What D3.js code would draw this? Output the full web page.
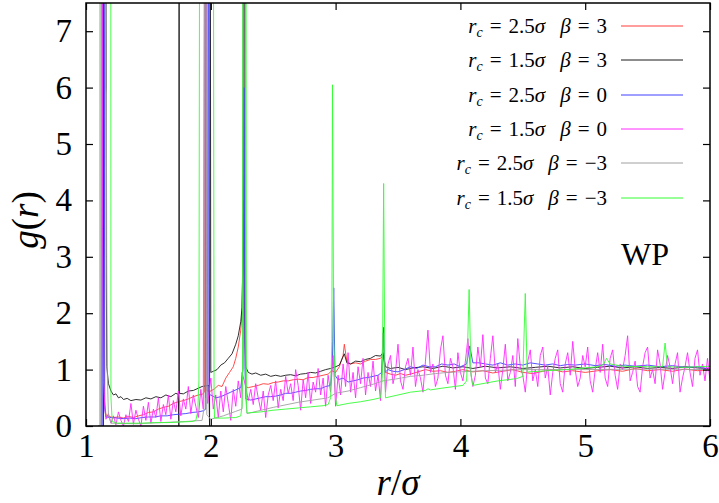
<!DOCTYPE html>
<html>
<head>
<meta charset="utf-8">
<title>g(r) WP</title>
<script src="https://cdn.jsdelivr.net/npm/d3@7"></script>
<style>
  body { margin: 0; background: #fff; }
  svg text { font-family: "Liberation Serif", "DejaVu Serif", serif; fill: #000; }
</style>
</head>
<body>
<svg id="chart" width="719" height="503"></svg>
<script>
// values, [r/sigma, g(r)]; 12 = goes off the top
const red = [[1.10,0],[1.125,0],[1.13,12],[1.14,12],[1.145,0.5],[1.16,0.2],[1.18,0.17],[1.22,0.15],[1.26,0.16],[1.30,0.14],[1.34,0.17],[1.38,0.15],[1.42,0.18],[1.46,0.20],[1.50,0.24],[1.54,0.25],[1.58,0.30],[1.62,0.33],[1.66,0.35],[1.70,0.40],[1.74,0.43],[1.78,0.45],[1.82,0.48],[1.86,0.52],[1.90,0.55],[1.93,0.56],[1.95,0.6],[1.955,12],[1.965,12],[1.97,0.62],[2.0,0.62],[2.03,0.66],[2.06,0.72],[2.09,0.70],[2.12,0.85],[2.15,0.95],[2.18,1.05],[2.20,1.2],[2.22,1.4],[2.24,1.7],[2.25,2.0],[2.262,4.0],[2.27,2.0],[2.28,0.7],[2.30,0.68],[2.34,0.70],[2.38,0.72],[2.42,0.75],[2.46,0.74],[2.50,0.77],[2.54,0.78],[2.58,0.80],[2.62,0.80],[2.66,0.82],[2.70,0.83],[2.74,0.82],[2.78,0.86],[2.82,0.86],[2.86,0.88],[2.90,0.90],[2.94,0.92],[2.97,0.98],[3.00,0.95],[3.03,1.05],[3.06,1.25],[3.07,1.45],[3.09,1.15],[3.12,1.10],[3.16,1.12],[3.20,1.10],[3.24,1.15],[3.28,1.18],[3.32,1.18],[3.36,1.20],[3.38,1.25],[3.40,0.95],[3.44,0.92],[3.48,0.90],[3.52,0.93],[3.56,0.90],[3.60,0.92],[3.66,0.96],[3.72,1.0],[3.78,0.97],[3.84,0.98],[3.90,0.95],[3.96,0.97],[4.02,1.0],[4.10,0.96],[4.18,0.98],[4.26,0.94],[4.34,0.97],[4.42,1.0],[4.50,0.95],[4.58,0.93],[4.66,0.97],[4.74,1.0],[4.82,0.96],[4.90,0.98],[5.00,0.95],[5.10,0.98],[5.20,1.0],[5.30,0.97],[5.40,1.02],[5.50,0.98],[5.60,1.0],[5.70,0.97],[5.80,1.01],[5.90,0.98],[6.00,1.0]];

const black = [[1.10,0],[1.14,0],[1.143,12],[1.16,8],[1.163,2.5],[1.167,1.05],[1.18,0.75],[1.20,0.62],[1.22,0.55],[1.24,0.57],[1.26,0.50],[1.28,0.52],[1.30,0.47],[1.33,0.49],[1.36,0.45],[1.40,0.47],[1.44,0.46],[1.48,0.50],[1.52,0.48],[1.56,0.52],[1.60,0.50],[1.64,0.55],[1.68,0.52],[1.72,0.58],[1.74,0.56],[1.744,0],[1.746,12],[1.748,0.58],[1.78,0.57],[1.82,0.62],[1.86,0.63],[1.90,0.67],[1.93,0.70],[1.985,0.72],[1.99,0],[1.995,12],[2.0,0.95],[2.02,0.97],[2.05,1.0],[2.08,1.08],[2.11,1.12],[2.14,1.2],[2.17,1.28],[2.20,1.45],[2.22,1.6],[2.24,1.85],[2.25,2.1],[2.258,3.0],[2.262,12],[2.27,12],[2.275,1.5],[2.28,1.05],[2.30,0.95],[2.33,0.92],[2.36,0.94],[2.40,0.90],[2.44,0.92],[2.48,0.88],[2.52,0.90],[2.56,0.88],[2.60,0.90],[2.64,0.91],[2.68,0.89],[2.72,0.92],[2.76,0.93],[2.80,0.95],[2.84,0.94],[2.88,0.97],[2.92,1.0],[2.96,1.02],[3.00,1.05],[3.03,1.08],[3.07,1.28],[3.09,1.12],[3.12,1.10],[3.16,1.15],[3.20,1.14],[3.24,1.18],[3.28,1.20],[3.32,1.25],[3.36,1.24],[3.38,1.30],[3.40,1.05],[3.44,1.02],[3.50,1.04],[3.56,1.0],[3.62,1.03],[3.70,1.05],[3.78,1.02],[3.86,1.06],[3.94,1.03],[4.02,1.05],[4.10,1.02],[4.20,1.06],[4.30,1.03],[4.40,1.05],[4.50,1.02],[4.60,1.04],[4.70,1.06],[4.80,1.03],[4.90,1.05],[5.00,1.02],[5.10,1.04],[5.20,1.06],[5.30,1.03],[5.40,1.05],[5.50,1.02],[5.60,1.04],[5.70,1.02],[5.80,1.05],[5.90,1.03],[6.00,1.02]];

const blue = [[1.10,0],[1.13,0],[1.135,12],[1.145,12],[1.15,0.3],[1.16,0.16],[1.20,0.15],[1.25,0.14],[1.30,0.13],[1.35,0.14],[1.40,0.13],[1.45,0.15],[1.50,0.16],[1.55,0.16],[1.60,0.18],[1.65,0.18],[1.70,0.20],[1.75,0.21],[1.80,0.22],[1.85,0.24],[1.90,0.25],[1.94,0.27],[1.96,0.3],[1.965,12],[1.98,12],[1.985,0.55],[2.0,0.55],[2.04,0.50],[2.08,0.52],[2.12,0.56],[2.16,0.60],[2.20,0.64],[2.24,0.68],[2.258,1.0],[2.266,6.0],[2.274,1.0],[2.28,0.48],[2.32,0.46],[2.36,0.48],[2.40,0.50],[2.44,0.52],[2.48,0.52],[2.52,0.53],[2.56,0.55],[2.60,0.58],[2.64,0.58],[2.68,0.60],[2.72,0.62],[2.76,0.63],[2.80,0.65],[2.84,0.66],[2.88,0.66],[2.92,0.70],[2.96,0.72],[2.975,1.2],[2.985,2.45],[2.995,0.9],[3.02,0.82],[3.06,0.85],[3.10,0.78],[3.14,0.80],[3.18,0.82],[3.22,0.85],[3.26,0.86],[3.30,0.88],[3.34,0.90],[3.37,0.95],[3.385,1.75],[3.395,0.95],[3.42,1.0],[3.46,0.97],[3.50,0.96],[3.55,1.0],[3.60,1.05],[3.65,1.02],[3.70,1.08],[3.75,1.05],[3.80,1.05],[3.85,1.10],[3.90,1.08],[3.95,1.1],[4.00,1.05],[4.05,1.1],[4.075,1.42],[4.10,1.12],[4.15,1.12],[4.20,1.10],[4.26,1.08],[4.32,1.12],[4.38,1.08],[4.44,1.10],[4.50,1.08],[4.56,1.12],[4.62,1.10],[4.68,1.08],[4.74,1.10],[4.80,1.07],[4.86,1.09],[4.92,1.08],[5.00,1.10],[5.08,1.07],[5.16,1.09],[5.24,1.06],[5.32,1.08],[5.40,1.06],[5.50,1.08],[5.60,1.05],[5.70,1.07],[5.80,1.04],[5.90,1.05],[6.00,1.0]];

const magenta = [[1.10,0],[1.12,0],[1.122,12],[1.13,12],[1.133,3.5],[1.14,0.8],[1.15,0.35],[1.16,0.12],[1.18,0.22],[1.20,0.05],[1.22,0.18],[1.24,0.02],[1.26,0.25],[1.28,0.10],[1.30,0.00],[1.32,0.20],[1.34,0.08],[1.36,0.40],[1.38,0.03],[1.40,0.28],[1.42,0.12],[1.44,0.00],[1.46,0.35],[1.48,0.10],[1.50,0.42],[1.52,0.05],[1.54,0.30],[1.56,0.15],[1.58,0.50],[1.60,0.08],[1.62,0.38],[1.64,0.20],[1.66,0.55],[1.68,0.12],[1.70,0.45],[1.72,0.25],[1.74,0.62],[1.76,0.18],[1.78,0.48],[1.80,0.30],[1.82,0.70],[1.84,0.22],[1.86,0.55],[1.88,0.35],[1.90,0.15],[1.92,0.65],[1.94,0.30],[1.952,12],[1.958,0.5],[1.968,12],[1.975,0.4],[2.00,0.85],[2.02,0.30],[2.04,0.55],[2.06,0.15],[2.08,0.62],[2.10,0.25],[2.12,0.70],[2.14,0.40],[2.16,0.10],[2.18,0.65],[2.20,0.35],[2.22,0.80],[2.24,0.50],[2.25,0.95],[2.28,0.70],[2.30,0.45],[2.32,0.65],[2.34,0.38],[2.36,0.75],[2.38,0.50],[2.40,0.28],[2.42,0.62],[2.44,0.15],[2.46,0.55],[2.48,0.72],[2.50,0.45],[2.52,0.80],[2.54,0.32],[2.56,0.65],[2.58,0.45],[2.60,0.88],[2.62,0.58],[2.64,0.75],[2.66,0.45],[2.68,1.00],[2.70,0.72],[2.72,0.28],[2.74,0.82],[2.76,0.50],[2.78,0.95],[2.80,0.40],[2.82,0.78],[2.84,0.60],[2.86,1.02],[2.88,0.55],[2.90,0.85],[2.92,0.35],[2.94,0.90],[2.96,0.60],[2.98,1.25],[3.00,0.35],[3.02,0.90],[3.04,0.55],[3.06,1.10],[3.08,0.70],[3.10,1.30],[3.12,0.60],[3.14,0.95],[3.16,0.50],[3.18,1.05],[3.20,0.75],[3.22,1.20],[3.24,0.55],[3.26,0.95],[3.28,0.70],[3.30,1.15],[3.32,0.62],[3.34,0.90],[3.36,0.45],[3.38,1.65],[3.40,0.60],[3.42,1.10],[3.44,1.25],[3.46,0.75],[3.48,0.95],[3.50,1.45],[3.52,0.80],[3.54,0.65],[3.56,1.05],[3.58,1.20],[3.60,0.90],[3.62,1.40],[3.64,0.70],[3.66,1.00],[3.68,0.85],[3.70,0.60],[3.72,1.15],[3.74,1.70],[3.76,0.95],[3.78,1.10],[3.80,0.70],[3.82,0.85],[3.84,1.35],[3.86,1.60],[3.88,0.90],[3.90,0.75],[3.92,1.20],[3.94,1.05],[3.96,0.65],[3.98,1.30],[4.00,0.95],[4.02,0.80],[4.04,1.15],[4.06,1.55],[4.08,1.00],[4.10,0.70],[4.12,0.90],[4.14,1.40],[4.16,1.05],[4.18,1.62],[4.20,0.85],[4.22,0.75],[4.24,1.20],[4.26,1.60],[4.28,0.95],[4.30,1.10],[4.32,0.65],[4.34,1.00],[4.36,1.45],[4.38,0.80],[4.40,0.95],[4.42,1.25],[4.44,0.70],[4.46,1.55],[4.48,1.05],[4.50,0.90],[4.52,0.60],[4.54,1.15],[4.56,1.35],[4.58,0.80],[4.60,1.00],[4.62,0.70],[4.64,1.25],[4.66,1.40],[4.68,0.85],[4.70,1.05],[4.72,0.55],[4.74,0.95],[4.76,1.20],[4.78,1.35],[4.80,0.75],[4.82,0.60],[4.84,1.10],[4.86,1.30],[4.88,0.90],[4.90,1.50],[4.92,1.00],[4.94,0.70],[4.96,0.85],[4.98,1.25],[5.00,1.05],[5.02,1.40],[5.04,0.80],[5.06,0.60],[5.08,1.00],[5.10,1.30],[5.12,0.95],[5.14,1.45],[5.16,0.85],[5.18,0.70],[5.20,1.20],[5.22,1.35],[5.24,0.90],[5.26,0.65],[5.28,1.10],[5.30,1.00],[5.32,1.25],[5.34,1.60],[5.36,0.80],[5.38,0.95],[5.40,1.15],[5.42,0.70],[5.44,0.60],[5.46,1.05],[5.48,1.30],[5.50,1.40],[5.52,0.85],[5.54,1.00],[5.56,0.75],[5.58,1.35],[5.60,1.10],[5.62,0.65],[5.64,0.95],[5.66,1.25],[5.68,1.05],[5.70,0.75],[5.72,1.10],[5.74,1.30],[5.76,0.60],[5.78,0.85],[5.80,1.05],[5.82,1.30],[5.84,0.95],[5.86,0.70],[5.88,1.20],[5.90,1.35],[5.92,0.90],[5.94,1.10],[5.96,0.80],[5.98,1.20],[6.00,0.80]];

const gray = [[1.10,0],[1.12,0],[1.125,12],[1.15,10],[1.158,6.0],[1.163,5.9],[1.166,3],[1.17,1.0],[1.18,0.2],[1.20,0.05],[1.40,0.04],[1.60,0.06],[1.80,0.08],[1.93,0.1],[1.945,0.3],[1.952,12],[1.962,12],[1.968,0.2],[2.00,0.12],[2.10,0.18],[2.20,0.26],[2.25,0.3],[2.255,1],[2.26,12],[2.275,12],[2.28,0.5],[2.29,0.22],[2.50,0.33],[2.70,0.42],[2.94,0.5],[3.00,0.58],[3.10,0.62],[3.20,0.68],[3.30,0.74],[3.38,0.8],[3.50,0.84],[3.60,0.88],[3.70,0.9],[3.80,0.93],[3.90,0.95],[4.00,0.96],[4.20,0.98],[4.50,1.0],[5.00,1.0],[5.50,1.01],[6.00,1.0]];

const green = [[1.10,0],[1.11,0],[1.112,12],[1.198,12],[1.20,0.5],[1.21,0.08],[1.25,0.05],[1.35,0.05],[1.45,0.05],[1.55,0.06],[1.65,0.06],[1.75,0.07],[1.85,0.08],[1.88,0.10],[1.895,0.25],[1.905,0.8],[1.912,12],[2.02,12],[2.026,0.6],[2.03,0.14],[2.10,0.14],[2.20,0.15],[2.24,0.18],[2.25,0.35],[2.255,1.0],[2.258,12],[2.282,12],[2.285,0.5],[2.29,0.23],[2.40,0.25],[2.50,0.28],[2.60,0.30],[2.70,0.32],[2.80,0.34],[2.90,0.36],[2.94,0.38],[2.96,0.5],[2.97,1.5],[2.975,6.05],[2.985,1.5],[3.00,0.5],[3.01,0.36],[3.10,0.40],[3.20,0.43],[3.30,0.47],[3.36,0.5],[3.375,0.9],[3.385,4.3],[3.395,0.9],[3.40,0.5],[3.50,0.55],[3.60,0.60],[3.72,0.63],[3.74,0.66],[3.76,0.64],[3.85,0.67],[3.95,0.70],[4.02,0.72],[4.05,0.8],[4.07,2.42],[4.085,0.9],[4.10,0.72],[4.20,0.76],[4.30,0.80],[4.45,0.84],[4.50,0.88],[4.52,2.35],[4.535,0.95],[4.55,0.96],[4.70,0.98],[4.85,1.0],[4.95,1.02],[5.00,1.03],[5.10,1.05],[5.15,1.1],[5.17,1.2],[5.20,1.1],[5.30,1.06],[5.50,1.05],[5.62,1.05],[5.64,1.47],[5.66,1.05],[5.80,1.04],[6.00,1.06]];

const rcLabels = ["2.5", "1.5", "2.5", "1.5", "2.5", "1.5"];
const betaLabels = ["3", "3", "0", "0", "\u22123", "\u22123"];
const colors = ["#ff3a3a", "#1a1a1a", "#4040ff", "#ff2aff", "#a0a0a0", "#33ff33"];
const seriesData = [red, black, blue, magenta, gray, green];
const xTicks = [1, 2, 3, 4, 5, 6];
const yTicks = [0, 1, 2, 3, 4, 5, 6, 7];

const svg = d3.select("#chart");
const L = 86, R = 710, T = 3, B = 426;

const x = d3.scaleLinear().domain([1, 6]).range([L, R]);
const y = d3.scaleLinear().domain([0, 7.5]).range([B, T]);

svg.append("defs").append("clipPath").attr("id", "clip")
  .append("rect").attr("x", L).attr("y", T).attr("width", R - L).attr("height", B - T);

const line = d3.line().x(d => x(d[0])).y(d => y(d[1]));

const plot = svg.append("g").attr("clip-path", "url(#clip)");
seriesData.forEach((s, i) => {
  plot.append("path").datum(s)
    .attr("d", line)
    .attr("fill", "none")
    .attr("stroke", colors[i])
    .attr("stroke-width", 0.9);
});

// axes, ticks inside on all four sides
const tick = 7;
const axisBottom = d3.axisBottom(x).tickValues(xTicks).tickSize(-tick).tickPadding(8).tickFormat(d3.format("d"));
const axisTop = d3.axisTop(x).tickValues(xTicks).tickSize(-tick).tickFormat("");
const axisLeft = d3.axisLeft(y).tickValues(yTicks).tickSize(-tick).tickPadding(14).tickFormat(d3.format("d"));
const axisRight = d3.axisRight(y).tickValues(yTicks).tickSize(-tick).tickFormat("");

function style(g) {
  g.select(".domain").remove();
  g.selectAll(".tick line").attr("stroke", "#000").attr("stroke-width", 1.2);
  g.selectAll(".tick text").attr("fill", "#000")
    .style("font-family", "'Liberation Serif', serif").style("font-size", "33px");
}
svg.append("g").attr("transform", `translate(0,${B})`).call(axisBottom).call(style)
  .selectAll(".tick text").attr("dy", "0.71em");
svg.append("g").attr("transform", `translate(0,${T})`).call(axisTop).call(style);
svg.append("g").attr("transform", `translate(${L},0)`).call(axisLeft).call(style);
svg.append("g").attr("transform", `translate(${R},0)`).call(axisRight).call(style);

svg.append("rect").attr("x", L).attr("y", T).attr("width", R - L).attr("height", B - T)
  .attr("fill", "none").attr("stroke", "#000").attr("stroke-width", 1.5);

// axis labels
const yl = svg.append("text")
  .attr("transform", "translate(38,220) rotate(-90)")
  .attr("text-anchor", "middle").style("font-size", "37px");
yl.append("tspan").style("font-style", "italic").text("g");
yl.append("tspan").text("(");
yl.append("tspan").style("font-style", "italic").text("r");
yl.append("tspan").text(")");

const xl = svg.append("text").attr("x", 398).attr("y", 495)
  .attr("text-anchor", "middle").style("font-size", "37px");
xl.append("tspan").style("font-style", "italic").text("r");
xl.append("tspan").text("/");
xl.append("tspan").style("font-style", "italic").text("\u03c3");

svg.append("text").attr("x", 645).attr("y", 265).attr("text-anchor", "middle")
  .style("font-size", "32px").text("WP");

// legend
const legY = [26, 60, 95, 129, 163, 198];
rcLabels.forEach((rc, i) => {
  const t = svg.append("text").attr("x", 607).attr("y", legY[i] + 7)
    .attr("text-anchor", "end").style("font-size", "21px");
  t.append("tspan").style("font-style", "italic").text("r");
  t.append("tspan").style("font-style", "italic").style("font-size", "14px").attr("dy", 4).text("c");
  t.append("tspan").attr("dy", -4).attr("dx", 7).text("=");
  t.append("tspan").attr("dx", 7).text(rc);
  t.append("tspan").style("font-style", "italic").text("\u03c3");
  t.append("tspan").attr("dx", 15).style("font-style", "italic").text("\u03b2");
  t.append("tspan").attr("dx", 7).text("=");
  t.append("tspan").attr("dx", 7).text(betaLabels[i]);
  svg.append("line").attr("x1", 621).attr("x2", 683).attr("y1", legY[i]).attr("y2", legY[i])
    .attr("stroke", colors[i]).attr("stroke-width", 1);
});
</script>
</body>
</html>
